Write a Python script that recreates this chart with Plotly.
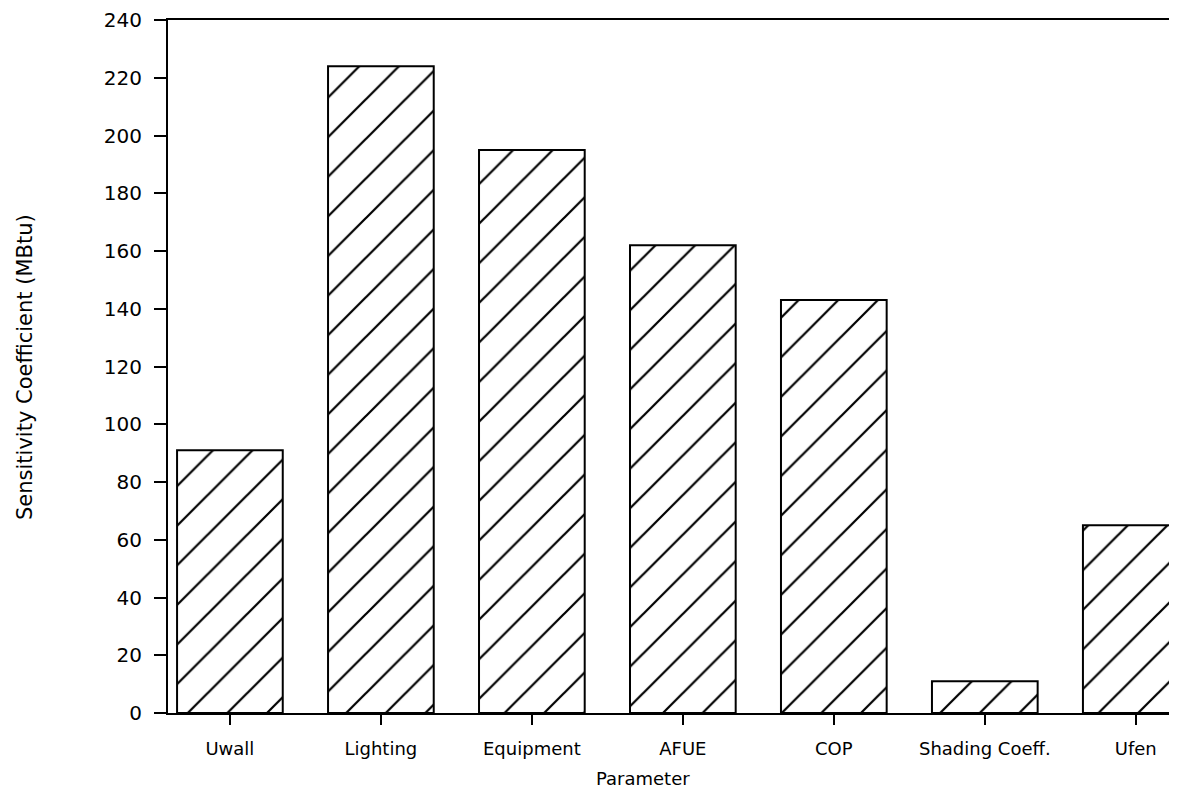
import plotly.graph_objects as go

categories = ["Uwall", "Lighting", "Equipment", "AFUE", "COP", "Shading Coeff.", "Ufen"]
values = [91, 224, 195, 162, 143, 11, 65]
y_ticks = [0, 20, 40, 60, 80, 100, 120, 140, 160, 180, 200, 220, 240]

positions = list(range(len(categories)))

# page offset of 8px (body margin) is compensated in the margins
W, H = 1161, 783
L, T, B = 160, 12, 78
PW, PH = W - L, H - T - B
OFF = 8

def px_to_paper_x(px):
    return (px - OFF - L) / PW

def px_to_paper_y(py):
    return ((T + PH) - (py - OFF)) / PH

fig = go.Figure()
fig.add_trace(go.Bar(
    x=positions,
    y=values,
    width=0.7,
    marker=dict(
        color="white",
        line=dict(color="black", width=2),
        pattern=dict(shape="/", size=28, solidity=0.08, fgcolor="black",
                     fgopacity=1, bgcolor="white", fillmode="replace"),
    ),
    showlegend=False,
))

fig.update_layout(
    width=W, height=H,
    margin=dict(l=L, r=0, t=T, b=B, pad=0),
    paper_bgcolor="white", plot_bgcolor="white",
    font=dict(family="DejaVu Sans", color="black", size=17),
    xaxis=dict(
        range=[-0.41, 6.22],
        tickvals=positions,
        ticktext=categories,
        ticks="outside", ticklen=10, tickwidth=1.5, tickcolor="black",
        showline=True, linecolor="black", linewidth=2, mirror=True,
        showgrid=False, zeroline=False,
        tickfont=dict(size=18),
        ticklabelstandoff=8,
    ),
    yaxis=dict(
        range=[0, 240],
        tickvals=y_ticks,
        ticktext=[str(v) for v in y_ticks],
        ticks="outside", ticklen=12, tickwidth=2, tickcolor="black",
        showline=True, linecolor="black", linewidth=2,
        showgrid=False, zeroline=False,
        tickfont=dict(size=20),
        ticklabelstandoff=8,
    ),
    annotations=[
        dict(text="Parameter", x=px_to_paper_x(643), y=px_to_paper_y(778),
             xref="paper", yref="paper", xanchor="center", yanchor="middle",
             showarrow=False, font=dict(size=18)),
        dict(text="Sensitivity Coefficient (MBtu)", x=px_to_paper_x(25),
             y=px_to_paper_y(367),
             xref="paper", yref="paper", xanchor="center", yanchor="middle",
             showarrow=False, textangle=-90, font=dict(size=21)),
    ],
)

fig.write_html("out.html")
